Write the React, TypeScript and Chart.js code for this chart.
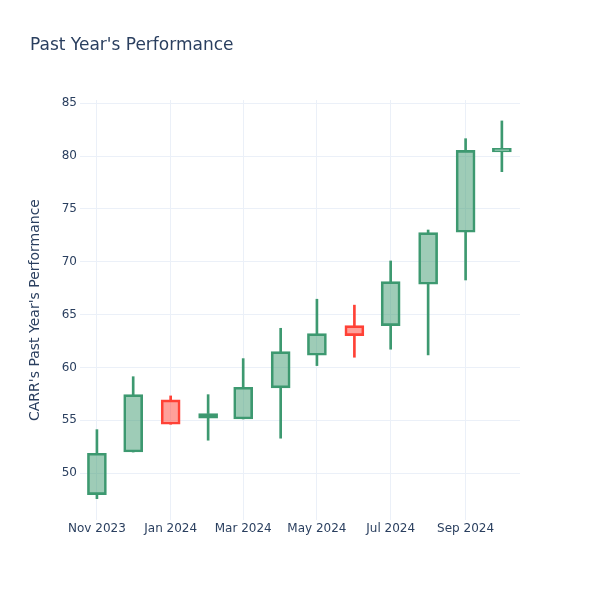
import React, { useEffect, useRef } from 'react';
import { Chart, registerables } from 'chart.js';

Chart.register(...registerables);

const TITLE = "Past Year's Performance";
const Y_TITLE = "CARR's Past Year's Performance";

const DATES = ['2023-11-01', '2023-12-01', '2024-01-01', '2024-02-01', '2024-03-01', '2024-04-01', '2024-05-01', '2024-06-01', '2024-07-01', '2024-08-01', '2024-09-01', '2024-10-01'];
const OPEN = [47.97, 52.0, 56.93, 55.2, 55.13, 58.07, 61.16, 63.96, 63.96, 67.88, 72.8, 80.4];
const HIGH = [54.12, 59.13, 57.31, 57.43, 60.84, 63.71, 66.46, 65.9, 70.08, 73.01, 81.65, 83.33];
const LOW = [47.59, 52.0, 54.63, 53.12, 55.13, 53.31, 60.18, 60.97, 61.73, 61.19, 68.28, 78.53];
const CLOSE = [51.89, 57.43, 54.63, 55.64, 58.13, 61.5, 63.2, 63.01, 68.12, 72.76, 80.55, 80.73];

const X_TICK_DATES = ['2023-11-01', '2024-01-01', '2024-03-01', '2024-05-01', '2024-07-01', '2024-09-01'];
const X_TICK_LABELS = ['Nov 2023', 'Jan 2024', 'Mar 2024', 'May 2024', 'Jul 2024', 'Sep 2024'];
const Y_TICKS = [50, 55, 60, 65, 70, 75, 80, 85];
const X_RANGE = ['2023-10-18', '2024-10-16'];
const Y_RANGE = [45.57, 85.31];

const INC_LINE = '#3D9970';
const INC_FILL = 'rgba(61,153,112,0.5)';
const DEC_LINE = '#FF4136';
const DEC_FILL = 'rgba(255,65,54,0.5)';
const TEXT = '#2a3f5f';
const GRID = '#EBF0F8';
const FONT = '"DejaVu Sans", "Open Sans", sans-serif';

const day = (d: string) => (Date.parse(d) - Date.parse(DATES[0])) / 86400000;

const titlePlugin = {
  id: 'pageTitle',
  afterDraw(chart: any) {
    const ctx = chart.ctx;
    ctx.save();
    ctx.font = `17px ${FONT}`;
    ctx.fillStyle = TEXT;
    ctx.textBaseline = 'alphabetic';
    ctx.textAlign = 'left';
    ctx.fillText(TITLE, 30, 50);
    ctx.restore();
  },
};

export default function App() {
  const ref = useRef<HTMLCanvasElement | null>(null);

  useEffect(() => {
    if (!ref.current) return;
    const up = DATES.map((_, i) => CLOSE[i] >= OPEN[i]);
    const lineColors = up.map((u) => (u ? INC_LINE : DEC_LINE));
    const fillColors = up.map((u) => (u ? INC_FILL : DEC_FILL));

    const chart = new Chart(ref.current, {
      type: 'bar',
      data: {
        datasets: [
          {
            label: 'body',
            data: DATES.map((d, i) => ({ x: day(d), y: [OPEN[i], CLOSE[i]] })) as any,
            backgroundColor: fillColors,
            borderColor: lineColors,
            borderWidth: 2,
            borderSkipped: false,
            barThickness: 19,
            grouped: false,
            order: 1,
          } as any,
          {
            label: 'upper wick',
            data: DATES.map((d, i) => ({ x: day(d), y: [Math.max(OPEN[i], CLOSE[i]), HIGH[i]] })) as any,
            backgroundColor: lineColors,
            borderWidth: 0,
            barThickness: 2,
            grouped: false,
            order: 2,
          } as any,
          {
            label: 'lower wick',
            data: DATES.map((d, i) => ({ x: day(d), y: [LOW[i], Math.min(OPEN[i], CLOSE[i])] })) as any,
            backgroundColor: lineColors,
            borderWidth: 0,
            barThickness: 2,
            grouped: false,
            order: 2,
          } as any,
        ],
      },
      options: {
        animation: false,
        responsive: false,
        maintainAspectRatio: false,
        layout: { padding: { top: 100, right: 80, bottom: 0, left: 0 } },
        plugins: {
          legend: { display: false },
          tooltip: { enabled: false },
          title: { display: false },
        },
        scales: {
          x: {
            type: 'linear',
            min: day(X_RANGE[0]),
            max: day(X_RANGE[1]),
            offset: false,
            afterBuildTicks: (s: any) => {
              s.ticks = X_TICK_DATES.map((d) => ({ value: day(d) }));
            },
            afterFit: (s: any) => {
              s.height = 80;
            },
            ticks: {
              autoSkip: false,
              maxRotation: 0,
              padding: 2,
              color: TEXT,
              font: { family: FONT, size: 12 },
              callback: (v: any) => {
                const idx = X_TICK_DATES.findIndex((d) => day(d) === v);
                return idx >= 0 ? X_TICK_LABELS[idx] : '';
              },
            },
            grid: { color: GRID, drawTicks: false, offset: false },
            border: { display: false },
          },
          y: {
            type: 'linear',
            min: Y_RANGE[0],
            max: Y_RANGE[1],
            afterBuildTicks: (s: any) => {
              s.ticks = Y_TICKS.map((v) => ({ value: v }));
            },
            afterFit: (s: any) => {
              s.width = 80;
            },
            ticks: {
              padding: 3,
              color: TEXT,
              font: { family: FONT, size: 12 },
            },
            grid: { color: GRID, drawTicks: false },
            border: { display: false },
            title: {
              display: true,
              text: Y_TITLE,
              color: TEXT,
              font: { family: FONT, size: 14 },
              padding: { top: 27, bottom: 0 },
            },
          },
        } as any,
      },
      plugins: [titlePlugin],
    });
    return () => chart.destroy();
  }, []);

  return (
    <div style={{ position: 'absolute', left: 0, top: 0, width: 600, height: 600, background: '#fff' }}>
      <canvas ref={ref} width={600} height={600} style={{ display: 'block' }} />
    </div>
  );
}
